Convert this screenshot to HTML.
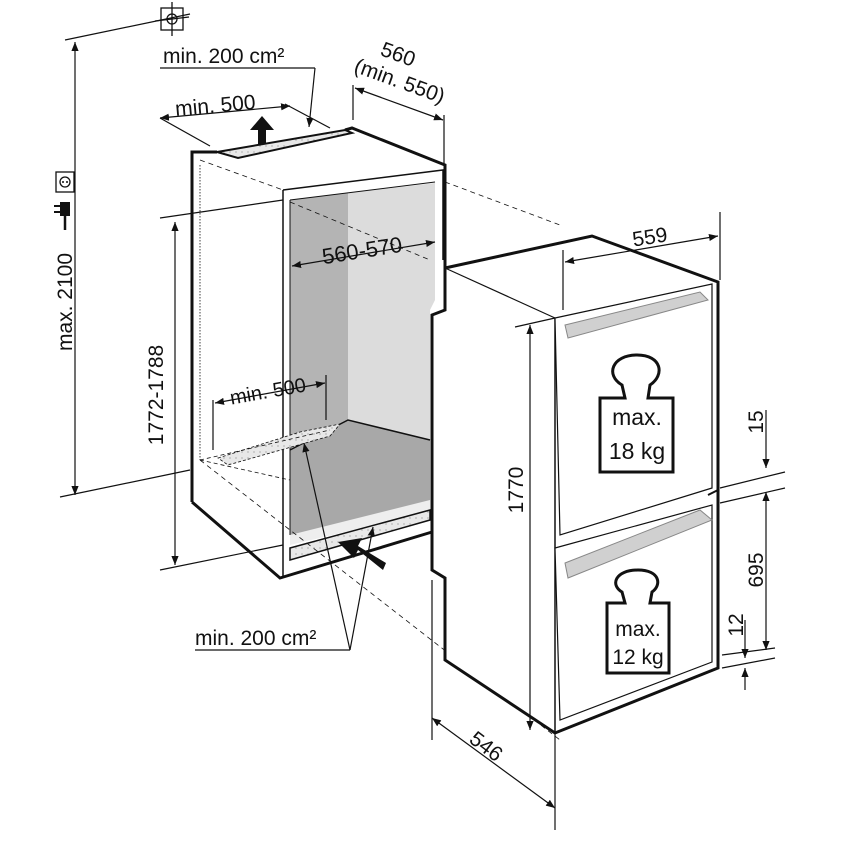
<!DOCTYPE html>
<html><head><meta charset="utf-8"><style>
html,body{margin:0;padding:0;background:#fff}
svg{display:block}
text{font-family:"Liberation Sans","DejaVu Sans",sans-serif;fill:#111}
</style></head><body>
<svg width="846" height="854" viewBox="0 0 846 854" xmlns="http://www.w3.org/2000/svg">
<defs>
<marker id="a" viewBox="0 0 10 10" refX="10" refY="5" markerWidth="9" markerHeight="9" orient="auto-start-reverse" markerUnits="userSpaceOnUse"><path d="M0,1 L10,5 L0,9 z" fill="#111"/></marker>
<pattern id="dots" width="6" height="6" patternUnits="userSpaceOnUse"><rect width="6" height="6" fill="#e8e8e8"/><circle cx="2" cy="2" r="0.6" fill="#888"/></pattern>
</defs>

<polygon points="290,200 348,193 348,420 290,450" fill="#b4b4b4"/>
<polygon points="348,193 435,183 435,300 430,310 430,455 348,420" fill="#dcdcdc"/>
<polygon points="290,450 348,420 430,440 430,505 290,535" fill="#a8a8a8"/>
<polygon points="290,535 430,500 430,512 290,545" fill="#eee"/>

<g fill="none" stroke="#111">
<polyline points="192,502 192,152 217,152" stroke-width="3"/>
<polyline points="345,130 352,128 445,165 445,300" stroke-width="3"/>
<polygon points="217,152 345,130 352,133 238,158" fill="url(#dots)" stroke-width="2"/>
<polyline points="192,502 280,578 432,532" stroke-width="3"/>
<polyline points="283,190 443,170 443,260" stroke-width="1.5"/>
<line x1="283" y1="190" x2="283" y2="578" stroke-width="1.5"/>
<line x1="290" y1="200" x2="290" y2="535" stroke-width="1"/>
<line x1="290" y1="200" x2="435" y2="182" stroke-width="1"/>
<polyline points="290,450 348,420 430,440" stroke-width="1.5"/>
<polygon points="290,548 430,510 430,520 290,560" fill="url(#dots)" stroke-width="1.5"/>
<line x1="200" y1="165" x2="200" y2="460" stroke-width="0.8" stroke-dasharray="1.5,1.5"/>
<polygon points="218,458 300,432 340,424 330,436 228,465" fill="url(#dots)" stroke-width="0.8" stroke-dasharray="3,2"/>
<line x1="200" y1="460" x2="330" y2="430" stroke-width="0.8" stroke-dasharray="4,3"/>
<line x1="200" y1="460" x2="290" y2="480" stroke-width="0.8" stroke-dasharray="4,3"/>
<line x1="200" y1="160" x2="283" y2="190" stroke-width="0.8" stroke-dasharray="5,4"/>
<line x1="290" y1="202" x2="430" y2="260" stroke-width="0.8" stroke-dasharray="5,4"/>
<line x1="445" y1="182" x2="560" y2="225" stroke-width="0.8" stroke-dasharray="5,4"/>
<line x1="200" y1="460" x2="560" y2="740" stroke-width="0.8" stroke-dasharray="5,4"/>
</g>

<g fill="#fff" stroke="#111">
<polygon points="445,268 592,236 718,282 718,668 555,733 445,660 445,578 432,570 432,315 445,310" stroke-width="3"/>
<line x1="445" y1="268" x2="555" y2="318" stroke-width="1.2"/>
<line x1="555" y1="318" x2="555" y2="733" stroke-width="1.5"/>
<polygon points="555,318 712,284 712,488 560,535" stroke-width="1.2"/>
<polygon points="555,548 712,505 712,662 560,720" stroke-width="1.2"/>
<line x1="718" y1="490" x2="708" y2="495" stroke-width="2"/>
<polygon points="565,325 700,292 708,300 568,338" fill="#d0d0d0" stroke="#888" stroke-width="1"/>
<polygon points="565,563 700,510 712,520 568,578" fill="#d0d0d0" stroke="#888" stroke-width="1"/>
</g>

<g fill="#fff" stroke="#111" stroke-width="3">
<path d="M600,398 L625,398 L622,385 C605,375 612,355 637,355 C662,355 665,375 650,385 L648,398 L673,398 L673,472 L600,472 Z"/>
<path d="M607,603 L625,603 L622,592 C610,585 615,570 638,570 C660,570 662,585 652,592 L650,603 L669,603 L669,673 L607,673 Z"/>
</g>
<text x="637" y="425" font-size="23" text-anchor="middle">max.</text>
<text x="637" y="459" font-size="23" text-anchor="middle">18 kg</text>
<text x="638" y="636" font-size="21" text-anchor="middle">max.</text>
<text x="638" y="664" font-size="21" text-anchor="middle">12 kg</text>

<g stroke="#111" stroke-width="1.2" fill="none">
<line x1="75" y1="42" x2="75" y2="495" marker-start="url(#a)" marker-end="url(#a)"/>
<line x1="65" y1="40" x2="190" y2="14"/>
<line x1="60" y1="497" x2="190" y2="470"/>
<line x1="175" y1="222" x2="175" y2="565" marker-start="url(#a)" marker-end="url(#a)"/>
<line x1="160" y1="218" x2="283" y2="200"/>
<line x1="160" y1="570" x2="283" y2="545"/>
<line x1="160" y1="118" x2="290" y2="106" marker-start="url(#a)" marker-end="url(#a)"/>
<line x1="160" y1="118" x2="210" y2="146"/>
<line x1="285" y1="104" x2="330" y2="128"/>
<polyline points="160,68 315,68"/>
<line x1="355" y1="88" x2="443" y2="120" marker-start="url(#a)" marker-end="url(#a)"/>
<line x1="353" y1="85" x2="353" y2="120"/>
<line x1="444" y1="115" x2="444" y2="165"/>
<line x1="292" y1="266" x2="435" y2="242" marker-start="url(#a)" marker-end="url(#a)"/>
<line x1="215" y1="403" x2="325" y2="383" marker-start="url(#a)" marker-end="url(#a)"/>
<line x1="213" y1="400" x2="213" y2="450"/>
<line x1="326" y1="375" x2="326" y2="420"/>
<line x1="565" y1="262" x2="718" y2="236" marker-start="url(#a)" marker-end="url(#a)"/>
<line x1="563" y1="250" x2="563" y2="310"/>
<line x1="720" y1="212" x2="720" y2="280"/>
<line x1="530" y1="325" x2="530" y2="730" marker-start="url(#a)" marker-end="url(#a)"/>
<line x1="515" y1="327" x2="555" y2="318"/>
<line x1="432" y1="718" x2="555" y2="808" marker-start="url(#a)" marker-end="url(#a)"/>
<line x1="432" y1="580" x2="432" y2="740"/>
<line x1="555" y1="733" x2="555" y2="830"/>
<line x1="766" y1="410" x2="766" y2="468" marker-end="url(#a)"/>
<line x1="766" y1="492" x2="766" y2="650" marker-start="url(#a)" marker-end="url(#a)"/>
<line x1="745" y1="620" x2="745" y2="658" marker-end="url(#a)"/>
<line x1="745" y1="690" x2="745" y2="668" marker-end="url(#a)"/>
<line x1="720" y1="488" x2="785" y2="472"/>
<line x1="720" y1="503" x2="785" y2="488"/>
<line x1="722" y1="655" x2="775" y2="648"/>
<line x1="722" y1="668" x2="775" y2="658"/>
<polyline points="195,650 350,650"/>
</g>
<line x1="350" y1="650" x2="304" y2="443" stroke="#111" stroke-width="1.2" marker-end="url(#a)"/>
<line x1="350" y1="650" x2="373" y2="527" stroke="#111" stroke-width="1.2" marker-end="url(#a)"/>
<line x1="315" y1="68" x2="309" y2="127" stroke="#111" stroke-width="1.2" marker-end="url(#a)"/>
<polygon points="258,140 258,126 250,126 262,112 274,126 266,126 266,140" fill="#111" transform="translate(0,4)"/>
<polygon points="383,570 358,550 354,558 338,542 362,538 358,546 386,563" fill="#111"/>

<g stroke="#111" fill="none" stroke-width="1.3">
<rect x="161" y="8" width="22" height="22"/>
<circle cx="172" cy="19" r="5"/>
<line x1="155" y1="21" x2="189" y2="17"/>
<line x1="172" y1="2" x2="172" y2="36"/>
<rect x="56" y="172" width="18" height="20"/>
<circle cx="65" cy="182" r="5"/>
</g>
<circle cx="63" cy="182" r="1" fill="#111"/><circle cx="67" cy="182" r="1" fill="#111"/>
<rect x="60" y="202" width="10" height="14" fill="#111"/>
<line x1="65" y1="216" x2="65" y2="230" stroke="#111" stroke-width="2.5"/>
<line x1="54" y1="206" x2="60" y2="206" stroke="#111" stroke-width="2"/>
<line x1="54" y1="212" x2="60" y2="212" stroke="#111" stroke-width="2"/>

<text x="163" y="63" font-size="21">min. 200 cm²</text>
<text x="175" y="112" font-size="21" transform="rotate(-5 220 105)">min. 500</text>
<text x="398" y="62" font-size="21" transform="rotate(20 400 55)" text-anchor="middle">560</text>
<text x="400" y="88" font-size="21" transform="rotate(20 400 80)" text-anchor="middle">(min. 550)</text>
<text x="362" y="258" font-size="22" transform="rotate(-9 362 250)" text-anchor="middle">560-570</text>
<text x="268" y="398" font-size="20" transform="rotate(-10 268 392)" text-anchor="middle">min. 500</text>
<text x="195" y="645" font-size="21">min. 200 cm²</text>
<text x="650" y="244" font-size="21" transform="rotate(-9 650 238)" text-anchor="middle">559</text>
<text x="0" y="0" font-size="21" transform="translate(72,302) rotate(-90)" text-anchor="middle">max. 2100</text>
<text x="0" y="0" font-size="21" transform="translate(163,395) rotate(-90)" text-anchor="middle">1772-1788</text>
<text x="0" y="0" font-size="21" transform="translate(523,490) rotate(-90)" text-anchor="middle">1770</text>
<text x="0" y="0" font-size="21" transform="translate(482,752) rotate(37)" text-anchor="middle">546</text>
<text x="0" y="0" font-size="21" transform="translate(763,422) rotate(-90)" text-anchor="middle">15</text>
<text x="0" y="0" font-size="21" transform="translate(763,570) rotate(-90)" text-anchor="middle">695</text>
<text x="0" y="0" font-size="21" transform="translate(743,625) rotate(-90)" text-anchor="middle">12</text>
</svg>
</body></html>
